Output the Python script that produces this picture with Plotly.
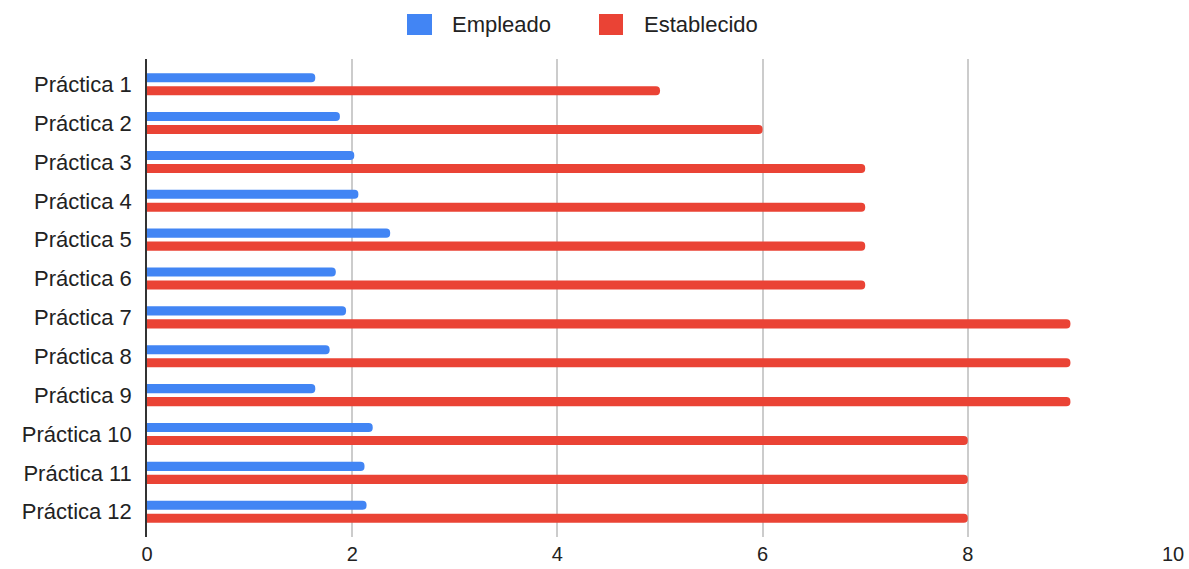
import plotly.graph_objects as go

categories = [f"Práctica {i}" for i in range(1, 13)]
empleado = [1.64, 1.88, 2.02, 2.06, 2.37, 1.84, 1.94, 1.78, 1.64, 2.20, 2.12, 2.14]
establecido = [5, 6, 7, 7, 7, 7, 9, 9, 9, 8, 8, 8]
series_names = ["Empleado", "Establecido"]
colors = ["#4285F4", "#EA4335"]
x_ticks = [0, 2, 4, 6, 8, 10]

W, H = 1189, 569
L, R, T, B = 147, 16, 59, 32
FONT = "Liberation Sans, Arial, sans-serif"
FS = 22

fig = go.Figure()
for name, vals, col in zip(series_names, [empleado, establecido], colors):
    fig.add_trace(go.Bar(
        y=categories, x=vals, name=name, orientation="h",
        marker=dict(color=col, cornerradius=5, line=dict(width=0)),
        showlegend=False,
    ))

pw = W - L - R
ph = H - T - B

def px2paper_x(px):
    return (px - L) / pw

def px2paper_y(py):
    return (H - B - py) / ph

# custom legend
legend_items = [(407, 432, 450), (599, 623, 642)]
for (x0, x1, tx), name, col in zip(legend_items, series_names, colors):
    fig.add_shape(type="rect", xref="paper", yref="paper",
                  x0=px2paper_x(x0), x1=px2paper_x(x1),
                  y0=px2paper_y(35), y1=px2paper_y(14),
                  fillcolor=col, line=dict(width=0), layer="above")
    fig.add_annotation(xref="paper", yref="paper", x=px2paper_x(tx), y=px2paper_y(24.5),
                       text=name, showarrow=False, xanchor="left", yanchor="middle",
                       font=dict(family=FONT, size=FS, color="#222222"))

fig.update_layout(
    width=W, height=H,
    margin=dict(l=L, r=R, t=T, b=B, autoexpand=False),
    paper_bgcolor="white", plot_bgcolor="white",
    barmode="group", bargap=0.331, bargroupgap=0.3,
    font=dict(family=FONT, size=FS, color="#222222"),
)
fig.update_xaxes(
    range=[0, 10], tickvals=x_ticks, showgrid=True, gridcolor="#cccccc", gridwidth=1.5,
    zeroline=False, showline=False, ticks="", ticklabelstandoff=3,
    tickfont=dict(family=FONT, size=20, color="#222222"), automargin=False,
)
fig.update_yaxes(
    categoryorder="array", categoryarray=categories,
    range=[11.649, -0.648], showgrid=False, showline=True, linecolor="#333333", linewidth=1.5,
    ticks="", ticklabelstandoff=9, zeroline=False,
    tickfont=dict(family=FONT, size=FS, color="#222222"), automargin=False,
)

fig.write_html("out.html")
